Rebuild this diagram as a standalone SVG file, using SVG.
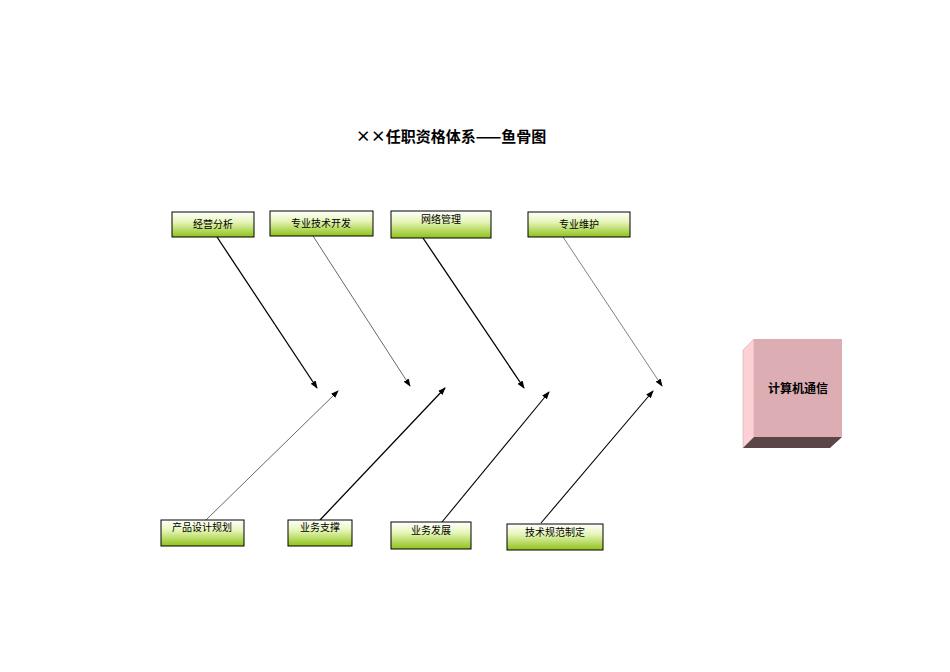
<svg xmlns="http://www.w3.org/2000/svg" width="950" height="672" viewBox="0 0 950 672">
<defs>
<linearGradient id="g" x1="0" y1="0" x2="0" y2="1"><stop offset="0" stop-color="#ffffff"/><stop offset="0.4" stop-color="#e6f5b8"/><stop offset="1" stop-color="#8fc21a"/></linearGradient>
<marker id="a" markerWidth="8" markerHeight="6" refX="7" refY="3" orient="auto" markerUnits="userSpaceOnUse"><path d="M0,0L8,3L0,6z" fill="#000"/></marker>
<style>.b{fill:url(#g);stroke:#000;stroke-width:1}.t{font-family:"Noto Sans CJK SC",sans-serif;font-size:10px;text-anchor:middle;fill:#000}.c line{stroke:#000;marker-end:url(#a)}</style>
</defs>
<rect width="950" height="672" fill="#fff"/>
<text x="451" y="142" font-family="'Noto Sans CJK SC',sans-serif" font-size="15" font-weight="bold" text-anchor="middle">××任职资格体系——鱼骨图</text>
<g class="c">
<line x1="217" y1="237" x2="317" y2="388" stroke-width="1.3"/>
<line x1="313" y1="236" x2="410" y2="386" stroke-width="0.6"/>
<line x1="423" y1="238" x2="524" y2="388" stroke-width="1.3"/>
<line x1="563" y1="237" x2="662" y2="386" stroke-width="0.5"/>
<line x1="206" y1="520" x2="338" y2="391" stroke-width="0.6"/>
<line x1="320" y1="520" x2="445" y2="388" stroke-width="1.3"/>
<line x1="442" y1="522" x2="549" y2="392" stroke-width="1.1"/>
<line x1="541" y1="523" x2="653" y2="391" stroke-width="1.1"/>
</g>
<g id="n1"><rect class="b" x="172" y="212" width="82" height="25"/><text class="t" x="213" y="228">经营分析</text></g>
<g id="n2"><rect class="b" x="270" y="211" width="103" height="25"/><text class="t" x="321" y="227">专业技术开发</text></g>
<g id="n3"><rect class="b" x="391" y="211" width="100" height="27"/><text class="t" x="441" y="223">网络管理</text></g>
<g id="n4"><rect class="b" x="528" y="212" width="102" height="25"/><text class="t" x="579" y="228">专业维护</text></g>
<g id="n5"><rect class="b" x="161" y="520" width="83" height="26"/><text class="t" x="202" y="531">产品设计规划</text></g>
<g id="n6"><rect class="b" x="288" y="520" width="64" height="26"/><text class="t" x="320" y="531">业务支撑</text></g>
<g id="n7"><rect class="b" x="391" y="522" width="80" height="27"/><text class="t" x="431" y="534">业务发展</text></g>
<g id="n8"><rect class="b" x="507" y="524" width="96" height="26"/><text class="t" x="555" y="536">技术规范制定</text></g>
<g id="n9">
<polygon points="743,350 754,339 754,437 743,448" fill="#fcd0d4" stroke="#c9a0a4" stroke-width="0.5"/>
<rect x="754" y="339" width="88" height="98" fill="#dcaeb4"/>
<polygon points="743,448 754,437 842,437 830,448" fill="#5a4548"/>
<text x="798" y="393" font-family="'Noto Sans CJK SC',sans-serif" font-size="12" font-weight="bold" text-anchor="middle">计算机通信</text>
</g>
</svg>
